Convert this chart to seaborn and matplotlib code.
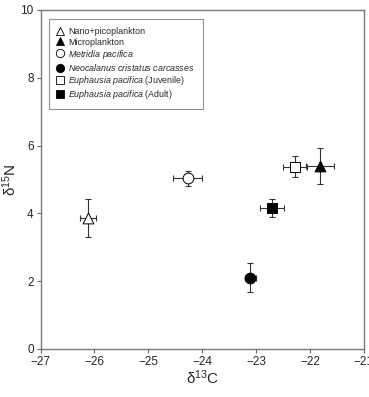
import matplotlib
matplotlib.use('Agg')
import matplotlib.pyplot as plt
import pandas as pd
import seaborn as sns
from matplotlib.lines import Line2D

groups = ['Nano+picoplankton', 'Microplankton', 'Metridia pacifica',
          'Neocalanus cristatus carcasses', 'Euphausia pacifica (Juvenile)',
          'Euphausia pacifica (Adult)']
d13c = [-26.12, -21.81, -24.27, -23.11, -22.28, -22.70]
d13c_err = [0.15, 0.26, 0.27, 0.10, 0.22, 0.22]
d15n = [3.85, 5.40, 5.03, 2.10, 5.38, 4.15]
d15n_err = [0.56, 0.54, 0.22, 0.43, 0.30, 0.26]
markers = ['^', '^', 'o', 'o', 's', 's']
filled = [False, True, False, True, False, True]

legend_labels = [
    'Nano+picoplankton',
    'Microplankton',
    r'$\it{Metridia\ pacifica}$',
    r'$\it{Neocalanus\ cristatus\ carcasses}$',
    r'$\it{Euphausia\ pacifica}$ (Juvenile)',
    r'$\it{Euphausia\ pacifica}$ (Adult)',
]

df = pd.DataFrame({'group': groups, 'x': d13c, 'xerr': d13c_err,
                   'y': d15n, 'yerr': d15n_err})

sns.set_style('ticks')
plt.rcParams['font.family'] = ['Liberation Sans', 'DejaVu Sans']
plt.rcParams['mathtext.fontset'] = 'custom'
plt.rcParams['mathtext.rm'] = 'Liberation Sans'
plt.rcParams['mathtext.it'] = 'Liberation Sans:italic'

fig = plt.figure(figsize=(3.69, 3.97), dpi=100)
ax = fig.add_axes([0.110, 0.121, 0.876, 0.854])

ax.errorbar(df['x'], df['y'], xerr=df['xerr'], yerr=df['yerr'], fmt='none',
            ecolor='#333333', elinewidth=0.8, capsize=2, capthick=0.8, zorder=2)

for i, row in df.iterrows():
    fc = 'black' if filled[i] else 'white'
    sns.scatterplot(x=[row['x']], y=[row['y']], marker=markers[i], s=60,
                    facecolor=fc, edgecolor='black', linewidth=0.7,
                    ax=ax, zorder=3, legend=False)

ax.set_xlim(-27, -21)
ax.set_ylim(0, 10)
ax.set_xticks(range(-27, -20))
ax.set_xticklabels(['\u2212%d' % abs(v) for v in range(-27, -20)])
ax.set_yticks([0, 2, 4, 6, 8, 10])
ax.tick_params(labelsize=8.5, length=3, width=0.8, color='#666666', pad=2)
for sp in ax.spines.values():
    sp.set_color('#777777')
    sp.set_linewidth(1.0)

ax.set_xlabel('\u03b4$^{13}$C', fontsize=11, labelpad=0)
ax.set_ylabel('\u03b4$^{15}$N', fontsize=11, labelpad=1)

handles = []
for i in range(len(groups)):
    fc = 'black' if filled[i] else 'white'
    handles.append(Line2D([], [], linestyle='none', marker=markers[i],
                          markersize=6, markerfacecolor=fc,
                          markeredgecolor='black', markeredgewidth=0.6))
leg = ax.legend(handles, legend_labels, loc='upper left', fontsize=6.4,
                frameon=True, fancybox=False, handlelength=0.8,
                handletextpad=0.5, labelspacing=0.12, borderpad=0.9,
                bbox_to_anchor=(0.012, 0.985))
leg.get_frame().set_edgecolor('#777777')
leg.get_frame().set_linewidth(0.8)

fig.savefig('out.png', dpi=100)
